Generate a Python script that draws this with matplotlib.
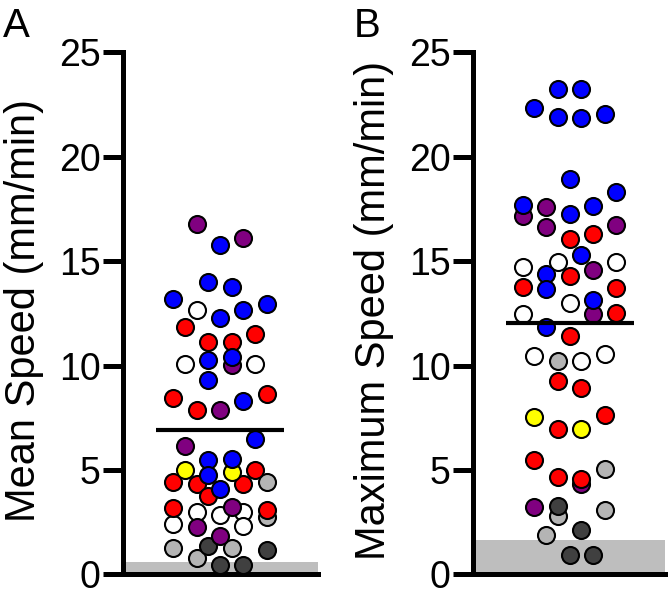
import matplotlib
matplotlib.use('Agg')
import matplotlib.pyplot as plt
import numpy as np

plt.rcParams['font.family'] = ['Liberation Sans', 'DejaVu Sans']

# colour key per cell group
palette = {
    'blue': '#0000ff', 'red': '#ff0000', 'purple': '#800080', 'yellow': '#ffff00',
    'white': '#ffffff', 'gray': '#b4b4b4', 'dark': '#404040',
}
draw_order = ['gray', 'dark', 'white', 'purple', 'red', 'yellow', 'blue']

# Panel A: mean speed (mm/min)
mean_vals = [16.79, 16.12, 15.79, 14.02, 13.78, 13.21, 12.68, 12.68, 12.97, 12.30,
             11.87, 11.53, 11.15, 11.15, 10.10, 10.29, 10.43, 10.05, 10.10, 9.33,
             8.47, 7.89, 7.89, 8.33, 8.66, 6.17, 6.51, 5.50, 5.55, 5.02,
             4.93, 5.02, 4.78, 4.45, 4.31, 4.11, 4.35, 4.45, 3.78, 3.16,
             3.01, 2.87, 3.25, 3.01, 3.11, 2.73, 2.44, 2.25, 2.30, 1.82,
             1.29, 1.34, 1.29, 1.15, 0.77, 0.43, 0.43]
mean_cols = ['purple', 'purple', 'blue', 'blue', 'blue', 'blue', 'white', 'blue', 'blue', 'blue',
             'red', 'red', 'red', 'red', 'white', 'blue', 'blue', 'purple', 'white', 'blue',
             'red', 'red', 'purple', 'blue', 'red', 'purple', 'blue', 'blue', 'blue', 'yellow',
             'yellow', 'red', 'blue', 'red', 'red', 'blue', 'red', 'gray', 'red', 'red',
             'white', 'white', 'purple', 'white', 'red', 'gray', 'white', 'purple', 'white', 'purple',
             'gray', 'dark', 'gray', 'dark', 'gray', 'dark', 'dark']
mean_slot = [-2, 2, 0, -1, 1, -4, -2, 2, 4, 0,
             -3, 3, -1, 1, -3, -1, 1, 1, 3, -1,
             -4, -2, 0, 2, 4, -3, 3, -1, 1, -3,
             1, 3, -1, -4, -2, 0, 2, 4, -1, -4,
             -2, 0, 1, 2, 4, 4, -4, -2, 2, 0,
             -4, -1, 1, 4, -2, 0, 2]
mean_avg = 6.9
mean_floor = 0.62

# Panel B: maximum speed (mm/min)
max_vals = [23.25, 23.25, 22.34, 21.90, 21.87, 22.06, 18.95, 18.33, 17.70, 17.18,
            17.61, 17.27, 17.66, 16.75, 16.65, 16.08, 16.32, 15.31, 14.74, 14.98,
            14.98, 14.40, 14.31, 14.59, 13.78, 13.68, 13.73, 13.01, 13.16, 12.49,
            12.49, 12.54, 11.87, 11.44, 10.48, 10.24, 10.24, 10.57, 9.28, 8.95,
            7.56, 7.66, 6.99, 6.99, 5.50, 5.07, 4.69, 4.59, 4.31, 3.21,
            3.30, 2.78, 3.11, 1.91, 2.15, 0.91, 0.91]
max_cols = ['blue', 'blue', 'blue', 'blue', 'blue', 'blue', 'blue', 'blue', 'blue', 'purple',
            'purple', 'blue', 'blue', 'purple', 'purple', 'red', 'red', 'blue', 'white', 'white',
            'white', 'blue', 'red', 'purple', 'red', 'blue', 'red', 'white', 'blue', 'white',
            'purple', 'red', 'blue', 'red', 'white', 'gray', 'white', 'white', 'red', 'red',
            'yellow', 'red', 'red', 'yellow', 'red', 'gray', 'red', 'red', 'purple', 'purple',
            'dark', 'gray', 'gray', 'gray', 'dark', 'dark', 'dark']
max_slot = [-1, 1, -3, -1, 1, 3, 0, 4, -4, -4,
            -2, 0, 2, 4, -2, 0, 2, 1, -4, -1,
            4, -2, 0, 2, -4, -2, 4, 0, 2, -4,
            2, 4, -2, 0, -3, -1, 1, 3, -1, 1,
            -3, 3, -1, 1, -3, 3, -1, 1, 1, -3,
            -1, -1, 3, -2, 1, 0, 2]
max_avg = 12.06
max_floor = 1.67

yticks = [0, 5, 10, 15, 20, 25]


def draw_panel(ax, vals, cols, slots, avg, floor, xlim, ylabel, label_x):
    vals = np.array(vals)
    slots = np.array(slots)
    cols = np.array(cols)
    ax.axhspan(0, floor, color='#bebebe', lw=0, zorder=1)
    for c in draw_order:
        m = cols == c
        ax.scatter(slots[m], vals[m], s=150, c=palette[c], edgecolors='black',
                   linewidths=1.5, zorder=3, clip_on=False)
    ax.plot([-5.47, 5.47], [avg, avg], color='black', lw=3, zorder=4, solid_capstyle='butt')

    ax.set_xlim(*xlim)
    ax.set_ylim(0, 25)
    ax.set_yticks(yticks)
    ax.set_xticks([])
    ax.spines[['top', 'right']].set_visible(False)
    ax.spines[['left', 'bottom']].set_linewidth(3.6)
    ax.tick_params(axis='y', length=14.5, width=3.6, labelsize=27, pad=2)
    ax.set_ylabel(ylabel, fontsize=30)
    ax.yaxis.set_label_coords(label_x, 0.505)


fig = plt.figure(figsize=(6.7, 5.92), dpi=100)
ax_a = fig.add_axes([0.1843, 0.0296, 0.2903, 0.8818])
ax_b = fig.add_axes([0.7067, 0.0296, 0.2858, 0.8818])

draw_panel(ax_a, mean_vals, mean_cols, mean_slot, mean_avg, mean_floor,
           (-8.25, 8.37), 'Mean Speed (mm/min)', -0.409)
draw_panel(ax_b, max_vals, max_cols, max_slot, max_avg, max_floor,
           (-8.21, 8.16), 'Maximum Speed (mm/min)', -0.415)

fig.text(0.004, 0.9375, 'A', fontsize=29, ha='left', va='baseline')
fig.text(0.528, 0.9375, 'B', fontsize=29, ha='left', va='baseline')

fig.savefig('out.png', dpi=100)
